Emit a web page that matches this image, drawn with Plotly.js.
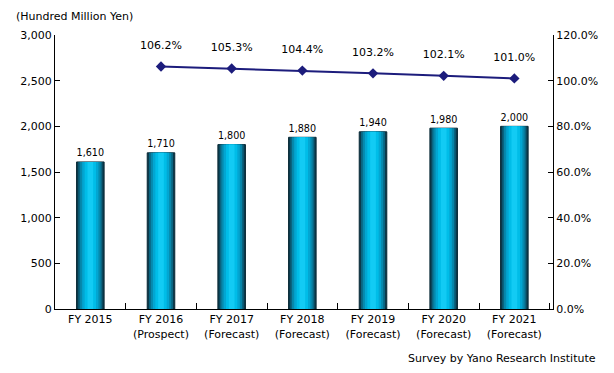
<!DOCTYPE html>
<html><head><meta charset="utf-8">
<script src="https://cdn.plot.ly/plotly-3.0.1.min.js"></script>
<style>body{margin:0;background:#fff}#c{width:614px;height:373px}</style>
</head><body><div id="c"></div>
<script>
var categories = ["FY 2015","FY 2016<br>(Prospect)","FY 2017<br>(Forecast)","FY 2018<br>(Forecast)","FY 2019<br>(Forecast)","FY 2020<br>(Forecast)","FY 2021<br>(Forecast)"];
var marketSize = [1610,1710,1800,1880,1940,1980,2000];
var growthCats = categories.slice(1);
var growthRate = [1.062,1.053,1.044,1.032,1.021,1.010];

var F = "'DejaVu Sans', sans-serif";
var layers = [
  {w:0.39, c:"#0b3a4c"},
  {w:0.34, c:"#0a6480"},
  {w:0.29, c:"#0689ad"},
  {w:0.23, c:"#02a6d2"},
  {w:0.16, c:"#00bde8"},
  {w:0.08, c:"#12cbf4"}
];
var traces = layers.map(function(L,i){
  return {type:"bar", x:categories, y:marketSize, width:L.w,
    marker:{color:L.c, line:{width:i===0?1:0, color:"#0a2a36"}},
    hoverinfo:"skip", showlegend:false,
    text: i===0 ? marketSize.map(function(v){return v.toLocaleString("en-US");}) : null,
    textposition: i===0 ? "outside" : "none",
    cliponaxis:false,
    textfont:{family:F, size:11, color:"#000"}};
});
traces.push({type:"scatter", mode:"lines+markers", x:growthCats, y:growthRate, yaxis:"y2",
  line:{color:"#1c1c7c", width:2}, marker:{symbol:"diamond", size:8, color:"#1c1c7c"},
  cliponaxis:false, showlegend:false});
traces.push({type:"scatter", mode:"markers+text", x:growthCats, y:growthRate, yaxis:"y2",
  marker:{size:22, opacity:0},
  text:growthRate.map(function(v){return (v*100).toFixed(1)+"%";}), textposition:"top center",
  textfont:{family:F, size:11, color:"#000"}, cliponaxis:false, showlegend:false, hoverinfo:"skip"});

var layout = {
  width:614, height:373, margin:{l:55, r:61, t:35, b:64},
  paper_bgcolor:"#fff", plot_bgcolor:"#fff",
  barmode:"overlay", showlegend:false,
  font:{family:F, size:11, color:"#000"},
  xaxis:{type:"category", showline:true, linecolor:"#000", linewidth:1, ticks:"inside", tickson:"boundaries",
    ticklen:6, tickcolor:"#000", showgrid:false, tickfont:{family:F, size:11}},
  yaxis:{range:[0,3000], dtick:500, tickformat:",", showline:true, linecolor:"#000", ticks:"inside",
    ticklen:5, tickcolor:"#000", showgrid:false, zeroline:false, tickfont:{family:F, size:11}},
  yaxis2:{overlaying:"y", side:"right", range:[0,1.2], dtick:0.2, tickformat:".1%", showline:true,
    linecolor:"#000", ticks:"inside", ticklen:5, tickcolor:"#000", showgrid:false, zeroline:false,
    tickfont:{family:F, size:11}},
  annotations:[
    {text:"(Hundred Million Yen)", xref:"paper", yref:"paper", x:-0.082, y:1.069, xanchor:"left", yanchor:"middle", showarrow:false, font:{family:F, size:11}},
    {text:"Survey by Yano Research Institute", xref:"paper", yref:"paper", x:1.09, y:-0.179, xanchor:"right", yanchor:"middle", showarrow:false, font:{family:F, size:11}}
  ]
};
Plotly.newPlot("c", traces, layout, {displayModeBar:false, staticPlot:true});
</script></body></html>
